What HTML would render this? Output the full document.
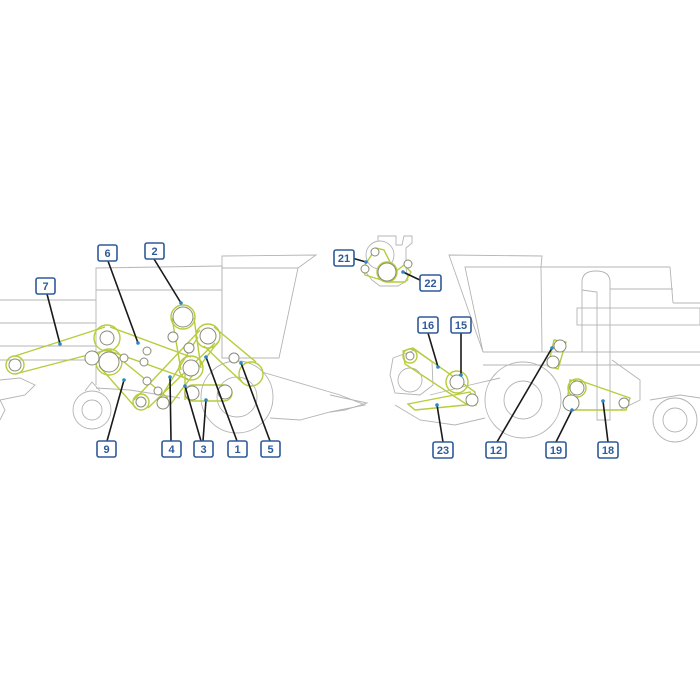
<!DOCTYPE html>
<html><head><meta charset="utf-8"><style>
html,body{margin:0;padding:0;background:#fff;}
svg{display:block;}
.m{fill:none;stroke:#b4b4b4;stroke-width:0.9;}
.b{fill:none;stroke:#b7cc3c;stroke-width:1.4;}
.p{fill:#fff;stroke:#8a8a7a;stroke-width:1;}
.g{fill:none;stroke:#b7cc3c;stroke-width:1.4;}
.l{stroke:#1a1a1a;stroke-width:1.6;}
.d{fill:#2a87c8;}
.bx{fill:#fff;stroke:#2e5a9a;stroke-width:1.6;}
.t{font-family:"Liberation Sans",sans-serif;font-weight:bold;font-size:11px;fill:#2e5a9a;text-anchor:middle;}
</style></head><body>
<svg width="700" height="700" viewBox="0 0 700 700" xmlns="http://www.w3.org/2000/svg">
<!-- LEFT MACHINE -->
<g class="m">
<line x1="0" y1="300" x2="96" y2="300"/>
<line x1="0" y1="323" x2="96" y2="323"/>
<line x1="0" y1="346" x2="96" y2="346"/>
<line x1="0" y1="360" x2="96" y2="360"/>
<polyline points="96,385 96,268 222,266"/>
<line x1="96" y1="290" x2="222" y2="290"/>
<line x1="222" y1="266" x2="222" y2="358"/>
<polygon points="222,256 316,255 298,268 279,358 222,358"/>
<line x1="222" y1="268" x2="298" y2="268"/>
<polyline points="96,388 130,390 180,398"/>
<circle cx="237" cy="397" r="36"/>
<circle cx="237" cy="397" r="20"/>
<circle cx="92" cy="410" r="19"/>
<circle cx="92" cy="410" r="10"/>
<polyline points="85,391 92,382 100,391"/>
<polyline points="262,372 340,395 365,405 330,412 300,420 270,418"/>
<polyline points="0,380 20,378 35,385 25,395 0,400"/>
<polyline points="0,400 5,410 0,420"/>
</g>
<!-- left belts -->
<g class="b">
<line x1="15" y1="356" x2="105" y2="327"/>
<line x1="15" y1="374" x2="107" y2="350"/>
<line x1="110" y1="327" x2="191" y2="357"/>
<line x1="107" y1="350" x2="188" y2="379"/>
<line x1="99" y1="366" x2="136" y2="408"/>
<line x1="118" y1="357" x2="168" y2="398"/>
<line x1="134" y1="400" x2="200" y2="330"/>
<line x1="148" y1="408" x2="215" y2="343"/>
<line x1="161" y1="397" x2="198" y2="337"/>
<line x1="170" y1="405" x2="218" y2="342"/>
<line x1="172" y1="318" x2="181" y2="370"/>
<line x1="194" y1="318" x2="201" y2="368"/>
<rect x="185" y="385" width="47" height="16" rx="8"/>
<line x1="185" y1="368" x2="185" y2="400"/>
<line x1="214" y1="327" x2="256" y2="362"/>
<line x1="204" y1="346" x2="243" y2="383"/>
<circle cx="15" cy="365" r="9"/>
<circle cx="107" cy="338" r="13"/>
<circle cx="109" cy="362" r="13"/>
<circle cx="183" cy="317" r="12"/>
<circle cx="208" cy="336" r="12"/>
<circle cx="191" cy="368" r="12"/>
<circle cx="141" cy="402" r="8"/>
<circle cx="251" cy="374" r="12"/>
</g>
<g class="p">
<circle cx="15" cy="365" r="6"/>
<circle cx="107" cy="338" r="7"/>
<circle cx="109" cy="362" r="10"/>
<circle cx="183" cy="317" r="10"/>
<circle cx="208" cy="336" r="8"/>
<circle cx="191" cy="368" r="8"/>
<circle cx="141" cy="402" r="5"/>
<circle cx="163" cy="403" r="6"/>
<circle cx="192" cy="393" r="7"/>
<circle cx="225" cy="392" r="7"/>
<circle cx="234" cy="358" r="5"/>
<circle cx="173" cy="337" r="5"/>
<circle cx="189" cy="348" r="5"/>
<circle cx="147" cy="351" r="4"/>
<circle cx="144" cy="362" r="4"/>
<circle cx="124" cy="358" r="4"/>
<circle cx="147" cy="381" r="4"/>
<circle cx="158" cy="391" r="4"/>
<circle cx="92" cy="358" r="7"/>
</g>
<!-- ENGINE TOP -->
<g class="m">
<circle cx="380" cy="255" r="14"/>
<polyline points="378,241 378,236 396,236 396,245 402,245 404,236 412,236 412,243 406,248 406,268 408,280 398,286 380,286 372,280 364,270"/>
</g>
<g class="b">
<polygon points="363,268 376,248 384,250 395,272 404,265 411,272 405,282 388,282 365,275"/>
<circle cx="387" cy="272" r="10"/>
</g>
<g class="p"><circle cx="375" cy="252" r="4"/><circle cx="365" cy="269" r="4"/><circle cx="408" cy="264" r="4"/><circle cx="387" cy="272" r="9"/></g>
<!-- RIGHT MACHINE -->
<g class="m">
<polygon points="449,255 542,256 541,267 465,267 483,352"/>
<line x1="465" y1="267" x2="670" y2="267"/>
<line x1="541" y1="267" x2="542" y2="352"/>
<line x1="670" y1="267" x2="673" y2="303"/>
<line x1="673" y1="303" x2="700" y2="303"/>
<line x1="610" y1="289" x2="673" y2="289"/>
<rect x="577" y="308" width="123" height="17"/>
<path d="M582,352 L582,282 Q582,271 596,271 Q610,271 610,282 L610,420 L597,420 L597,292 L582,290"/>
<line x1="483" y1="352" x2="700" y2="352"/>
<line x1="483" y1="365" x2="700" y2="365"/>
<circle cx="523" cy="400" r="38"/>
<circle cx="523" cy="400" r="19"/>
<circle cx="675" cy="420" r="22"/>
<circle cx="675" cy="420" r="12"/>
<polyline points="430,395 470,385 500,378"/>
<polyline points="395,405 420,420 455,425 485,418"/>
<polyline points="612,360 640,380 640,400 620,410"/>
<polyline points="650,400 680,395 700,398"/>
<polygon points="393,358 415,350 432,362 433,385 420,395 395,393 390,375"/>
<circle cx="410" cy="380" r="12"/>
<polyline points="330,395 367,403 345,410 330,412"/>
</g>
<g class="b">
<polygon points="403,351 413,348 475,392 476,405 466,404 405,364"/>
<circle cx="410" cy="356" r="7"/>
<circle cx="457" cy="382" r="11"/>
<polygon points="408,404 470,392 476,404 415,410"/>
<polygon points="554,340 566,342 558,369 548,366"/>
<polygon points="570,380 584,382 630,398 626,410 572,410 567,402"/>
<circle cx="577" cy="388" r="9"/>
</g>
<g class="p">
<circle cx="410" cy="356" r="4"/>
<circle cx="457" cy="382" r="7"/>
<circle cx="472" cy="400" r="6"/>
<circle cx="560" cy="346" r="6"/>
<circle cx="553" cy="362" r="6"/>
<circle cx="577" cy="388" r="7"/>
<circle cx="571" cy="403" r="8"/>
<circle cx="624" cy="403" r="5"/>
</g>
<!-- leader lines -->
<g class="l">
<line x1="47" y1="294" x2="60" y2="344"/>
<line x1="108" y1="261" x2="138" y2="343"/>
<line x1="154" y1="259" x2="181" y2="303"/>
<line x1="124" y1="380" x2="107" y2="441"/>
<line x1="170" y1="377" x2="171" y2="441"/>
<line x1="185" y1="386" x2="201" y2="441"/>
<line x1="206" y1="400" x2="203" y2="441"/>
<line x1="206" y1="357" x2="237" y2="441"/>
<line x1="241" y1="363" x2="270" y2="441"/>
<line x1="352" y1="258" x2="366" y2="262"/>
<line x1="403" y1="272" x2="422" y2="281"/>
<line x1="428" y1="333" x2="438" y2="367"/>
<line x1="461" y1="333" x2="461" y2="375"/>
<line x1="437" y1="405" x2="443" y2="442"/>
<line x1="552" y1="348" x2="497" y2="442"/>
<line x1="572" y1="410" x2="556" y2="442"/>
<line x1="603" y1="401" x2="608" y2="442"/>
</g>
<g class="d">
<circle cx="60" cy="344" r="1.8"/><circle cx="138" cy="343" r="1.8"/><circle cx="181" cy="303" r="1.8"/>
<circle cx="124" cy="380" r="1.8"/><circle cx="170" cy="377" r="1.8"/><circle cx="185" cy="386" r="1.8"/>
<circle cx="206" cy="400" r="1.8"/><circle cx="206" cy="357" r="1.8"/><circle cx="241" cy="363" r="1.8"/>
<circle cx="366" cy="262" r="1.8"/><circle cx="403" cy="272" r="1.8"/><circle cx="438" cy="367" r="1.8"/>
<circle cx="461" cy="375" r="1.8"/><circle cx="437" cy="405" r="1.8"/><circle cx="552" cy="348" r="1.8"/>
<circle cx="572" cy="410" r="1.8"/><circle cx="603" cy="401" r="1.8"/>
</g>
<!-- labels -->
<g>
<rect class="bx" x="36" y="278" width="19" height="16" rx="2"/><text class="t" x="45.5" y="290">7</text>
<rect class="bx" x="98" y="245" width="19" height="16" rx="2"/><text class="t" x="107.5" y="257">6</text>
<rect class="bx" x="145" y="243" width="19" height="16" rx="2"/><text class="t" x="154.5" y="255">2</text>
<rect class="bx" x="97" y="441" width="19" height="16" rx="2"/><text class="t" x="106.5" y="453">9</text>
<rect class="bx" x="162" y="441" width="19" height="16" rx="2"/><text class="t" x="171.5" y="453">4</text>
<rect class="bx" x="194" y="441" width="19" height="16" rx="2"/><text class="t" x="203.5" y="453">3</text>
<rect class="bx" x="228" y="441" width="19" height="16" rx="2"/><text class="t" x="237.5" y="453">1</text>
<rect class="bx" x="261" y="441" width="19" height="16" rx="2"/><text class="t" x="270.5" y="453">5</text>
<rect class="bx" x="334" y="250" width="20" height="16" rx="2"/><text class="t" x="344" y="262">21</text>
<rect class="bx" x="420" y="275" width="21" height="16" rx="2"/><text class="t" x="430.5" y="287">22</text>
<rect class="bx" x="418" y="317" width="20" height="16" rx="2"/><text class="t" x="428" y="329">16</text>
<rect class="bx" x="451" y="317" width="20" height="16" rx="2"/><text class="t" x="461" y="329">15</text>
<rect class="bx" x="433" y="442" width="20" height="16" rx="2"/><text class="t" x="443" y="454">23</text>
<rect class="bx" x="486" y="442" width="20" height="16" rx="2"/><text class="t" x="496" y="454">12</text>
<rect class="bx" x="546" y="442" width="20" height="16" rx="2"/><text class="t" x="556" y="454">19</text>
<rect class="bx" x="598" y="442" width="20" height="16" rx="2"/><text class="t" x="608" y="454">18</text>
</g>
</svg>
</body></html>
